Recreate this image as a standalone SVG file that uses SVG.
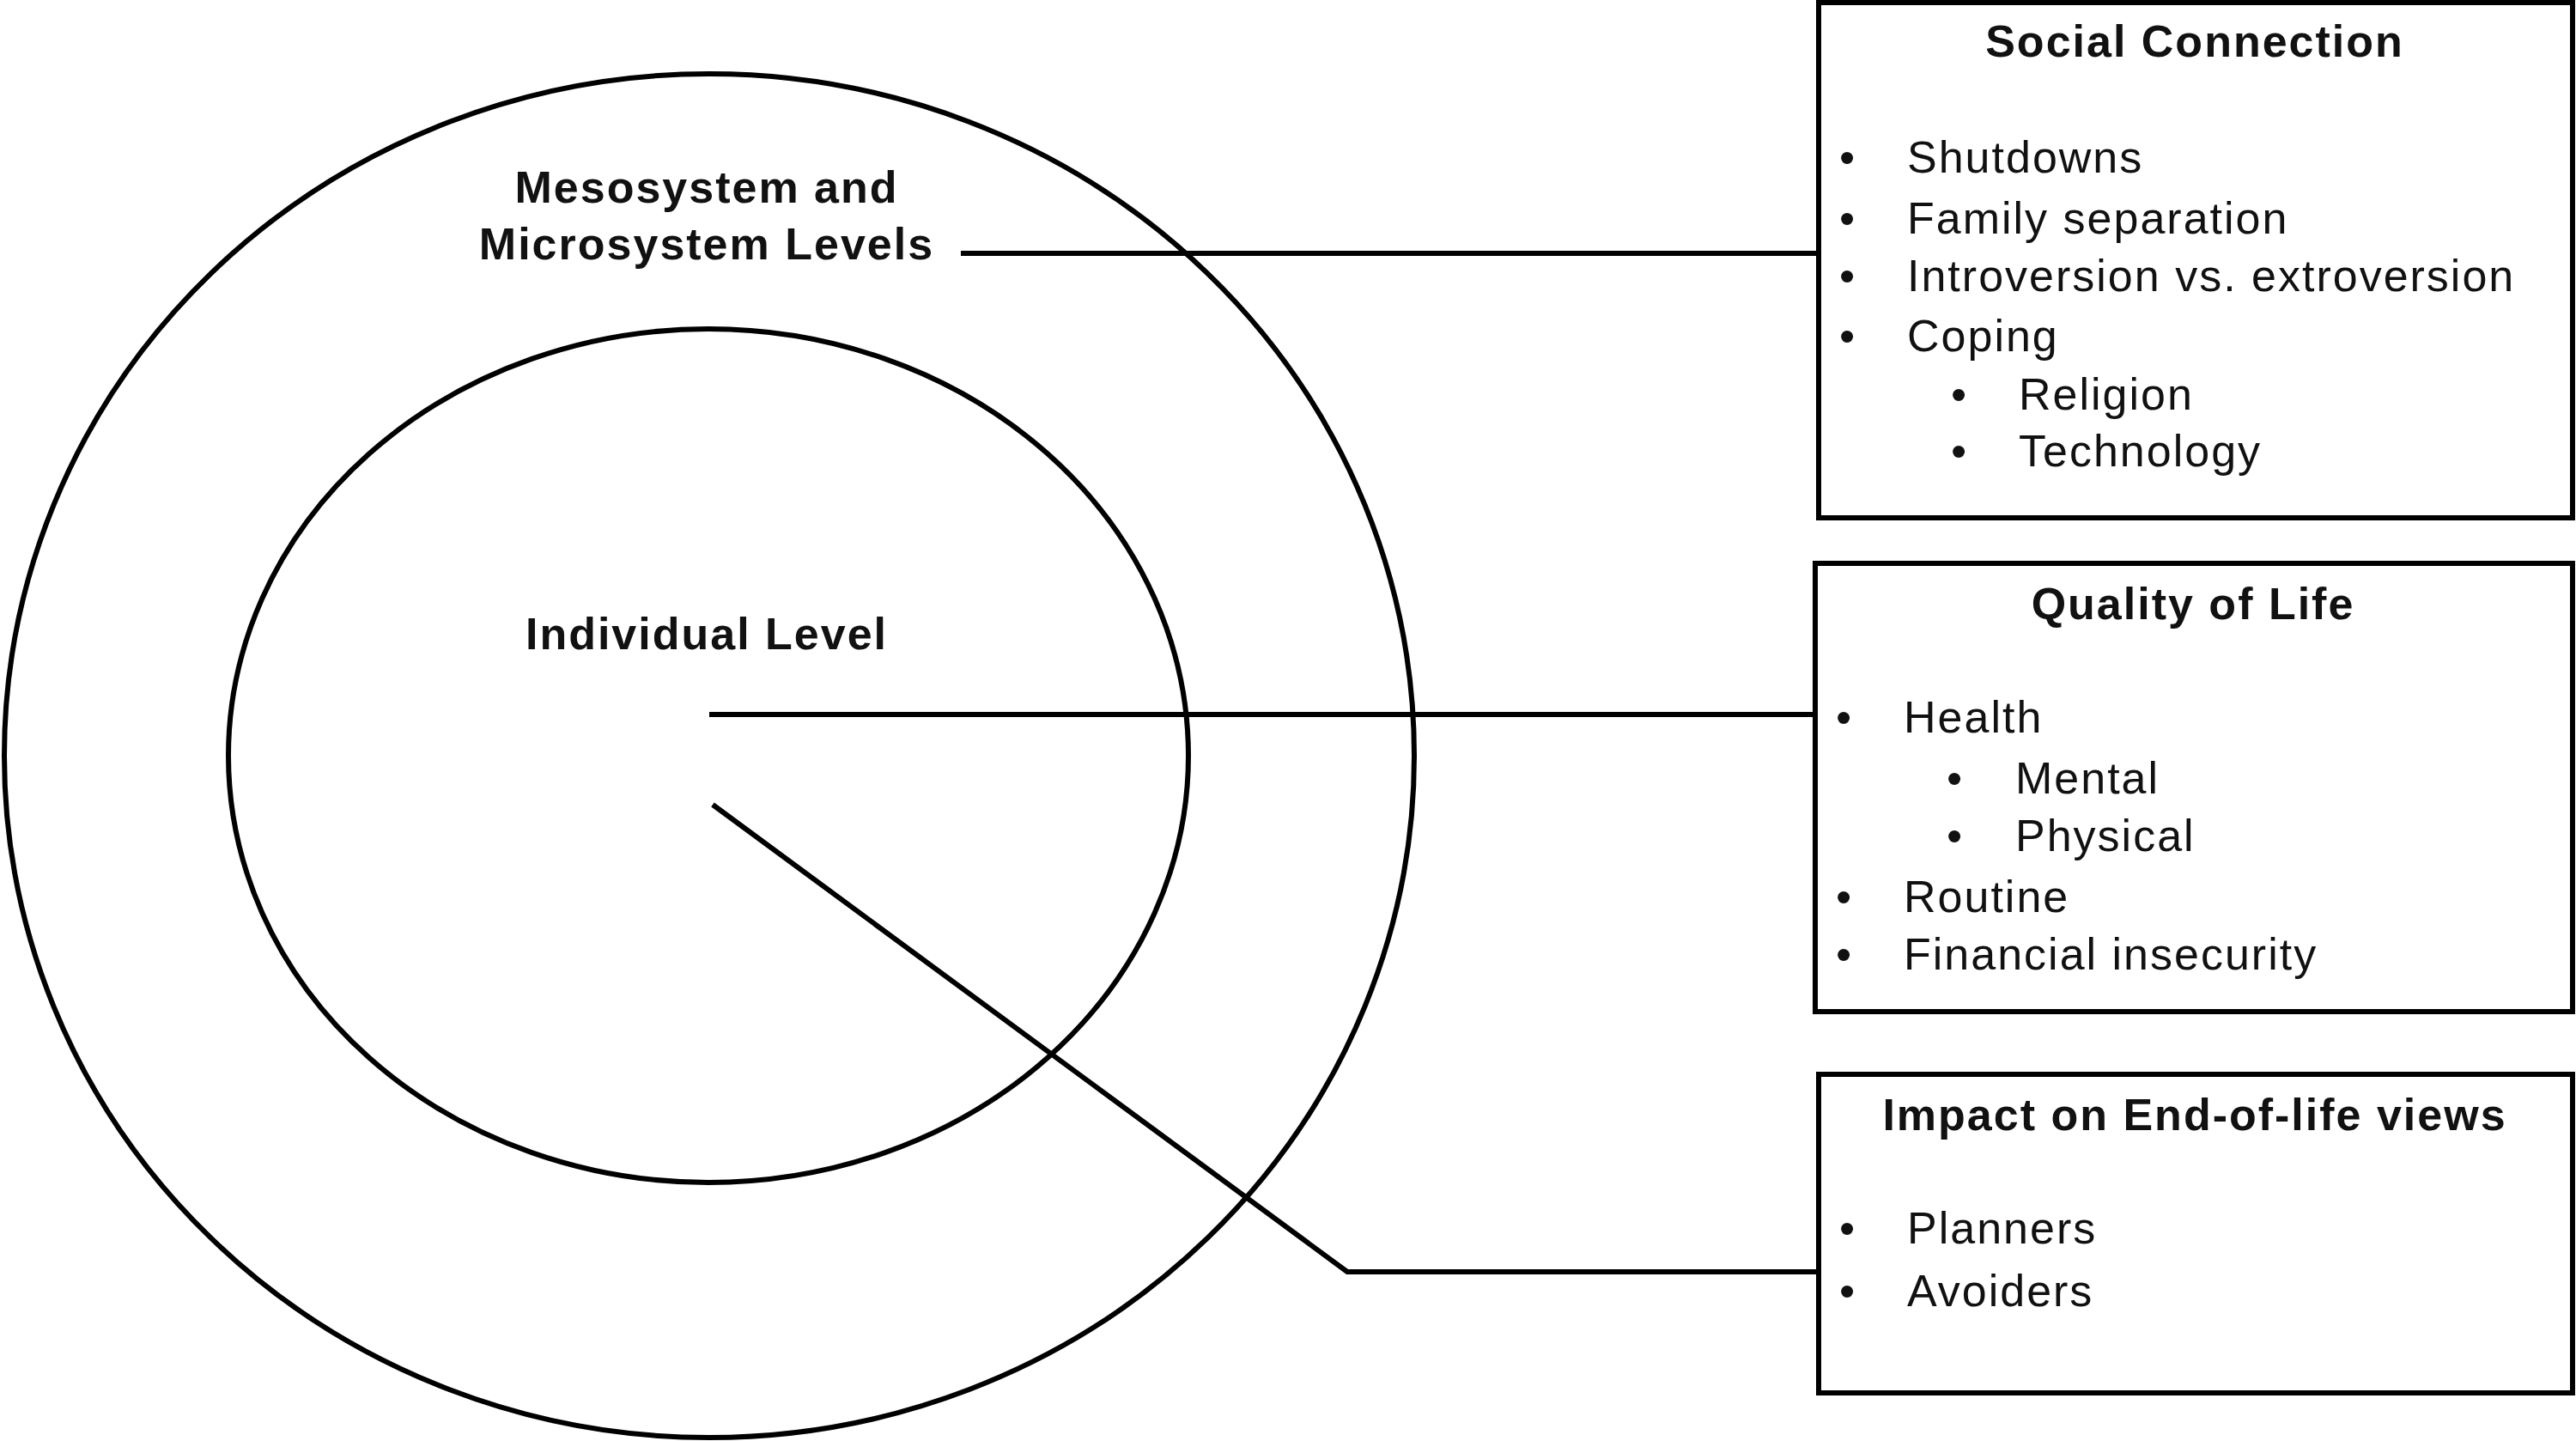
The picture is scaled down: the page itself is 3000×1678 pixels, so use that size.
<svg xmlns="http://www.w3.org/2000/svg" width="3000" height="1678" viewBox="0 0 3000 1678">
<style>
.s{fill:none;stroke:#000;stroke-width:6}
text{font-family:"Liberation Sans",Arial,sans-serif;font-size:52px;letter-spacing:2px;fill:#111}
.b{font-weight:bold;font-size:52px}
.m{text-anchor:middle}
</style>
<rect width="3000" height="1678" fill="#fff"/>
<g id="outer"><ellipse class="s" cx="826" cy="880" rx="821" ry="794"/>
<text class="b m" x="823" y="236">Mesosystem and</text><text class="b m" x="823" y="302">Microsystem Levels</text></g>
<g id="inner"><ellipse class="s" cx="825" cy="880" rx="559" ry="497"/>
<text class="b m" x="823" y="756">Individual Level</text></g>
<g id="connectors">
<polyline class="s" points="1119,295 2118,295"/>
<polyline class="s" points="826,832 2114,832"/>
<polyline class="s" points="830,937 1569,1481 2118,1481"/>
</g>
<g id="social"><rect class="s" x="2118" y="3" width="878" height="600"/>
<text class="b m" x="2556" y="66">Social Connection</text>
<text x="2142" y="201">•</text><text x="2221" y="201">Shutdowns</text>
<text x="2142" y="272">•</text><text x="2221" y="272">Family separation</text>
<text x="2142" y="339">•</text><text x="2221" y="339">Introversion vs. extroversion</text>
<text x="2142" y="409">•</text><text x="2221" y="409">Coping</text>
<text x="2272" y="477">•</text><text x="2351" y="477">Religion</text>
<text x="2272" y="543">•</text><text x="2351" y="543">Technology</text></g>
<g id="quality"><rect class="s" x="2114" y="656" width="882" height="522"/>
<text class="b m" x="2554" y="721">Quality of Life</text>
<text x="2138" y="853">•</text><text x="2217" y="853">Health</text>
<text x="2267" y="924">•</text><text x="2347" y="924">Mental</text>
<text x="2267" y="991">•</text><text x="2347" y="991">Physical</text>
<text x="2138" y="1062">•</text><text x="2217" y="1062">Routine</text>
<text x="2138" y="1129">•</text><text x="2217" y="1129">Financial insecurity</text></g>
<g id="endoflife"><rect class="s" x="2118" y="1251" width="878" height="371"/>
<text class="b m" x="2556" y="1316">Impact on End-of-life views</text>
<text x="2142" y="1448">•</text><text x="2221" y="1448">Planners</text>
<text x="2142" y="1521">•</text><text x="2221" y="1521">Avoiders</text></g>
</svg>
